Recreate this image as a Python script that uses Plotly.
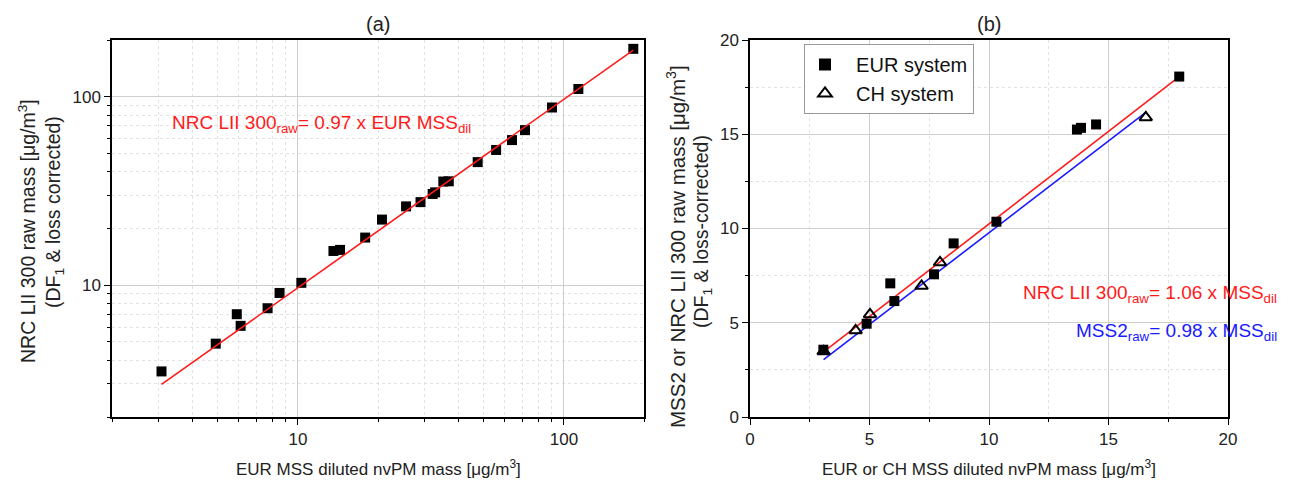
import plotly.graph_objects as go

# ---------------- data ----------------
# Panel (a): EUR MSS diluted vs NRC LII 300 raw (log-log)
a_x = [3.07, 4.91, 5.89, 6.09, 7.69, 8.53, 10.3, 13.6, 14.4, 17.9, 20.7, 25.5,
       28.9, 32.1, 32.8, 35.2, 36.9, 47.4, 55.6, 63.8, 71.4, 90.2, 113.3, 182.3]
a_y = [3.49, 4.90, 7.02, 6.09, 7.55, 9.10, 10.3, 15.2, 15.4, 17.9, 22.3, 26.2,
       27.6, 30.5, 31.1, 35.5, 35.6, 45.0, 52.2, 58.9, 66.5, 87.7, 109.9, 179.5]
a_slope = 0.97

# Panel (b): EUR system (squares) and CH system (triangles)
eur_x = [3.07, 4.88, 5.87, 6.04, 7.70, 8.52, 10.31, 13.68, 13.85, 14.48, 17.96]
eur_y = [3.57, 4.95, 7.09, 6.15, 7.57, 9.21, 10.36, 15.25, 15.34, 15.52, 18.06]
ch_x = [3.08, 4.42, 5.02, 7.18, 7.95, 16.56]
ch_y = [3.48, 4.59, 5.44, 6.95, 8.20, 15.89]
# fitted lines as drawn (end points)
red_fit_x = [3.08, 17.96]
red_fit_y = [3.45, 18.06]
blue_fit_x = [3.08, 16.6]
blue_fit_y = [3.04, 16.2]

W, H = 1300, 488
MT, MB = 12, 12
def px(x):
    return x / W
def py(y):
    return (H - MB - y) / (H - MT - MB)

FONT = "Liberation Sans, Arial, sans-serif"

fig = go.Figure()

# panel (a)
fig.add_trace(go.Scatter(x=a_x, y=a_y, mode="markers", xaxis="x", yaxis="y",
                         marker=dict(symbol="square", size=10, color="black"),
                         showlegend=False))
fx = [min(a_x), max(a_x)]
fig.add_trace(go.Scatter(x=fx, y=[a_slope * v for v in fx], mode="lines",
                         xaxis="x", yaxis="y", line=dict(color="#ff1a1a", width=1.6),
                         showlegend=False))

# panel (b)
fig.add_trace(go.Scatter(x=red_fit_x, y=red_fit_y, mode="lines", xaxis="x2", yaxis="y2",
                         line=dict(color="#ff1a1a", width=1.6), showlegend=False))
fig.add_trace(go.Scatter(x=blue_fit_x, y=blue_fit_y, mode="lines", xaxis="x2", yaxis="y2",
                         line=dict(color="#1a1aff", width=1.6), showlegend=False))
fig.add_trace(go.Scatter(x=eur_x, y=eur_y, mode="markers", xaxis="x2", yaxis="y2",
                         name="\u00a0\u00a0EUR system",
                         marker=dict(symbol="square", size=10, color="black")))
fig.add_trace(go.Scatter(x=ch_x, y=ch_y, mode="markers", xaxis="x2", yaxis="y2",
                         name="\u00a0\u00a0CH system",
                         marker=dict(symbol="triangle-up-open", size=11, color="black",
                                     line=dict(width=2, color="black"))))

dom_a = [px(112), px(644)]
dom_b = [px(750), px(1228)]
dom_y = [py(417), py(40)]

log_minor = [2, 3, 4, 5, 6, 7, 8, 9, 20, 30, 40, 50, 60, 70, 80, 90, 200]
common = dict(showline=True, linecolor="black", linewidth=1.5, mirror=True,
              ticks="outside", ticklen=6, tickwidth=1.2, tickcolor="black",
              showgrid=True, gridcolor="#cfcfcf", gridwidth=1, zeroline=False,
              tickfont=dict(size=17, color="#222", family=FONT))
overlay = dict(showline=False, ticks="inside", ticklen=6, tickwidth=1.2, tickcolor="black",
               showgrid=False, zeroline=False, showticklabels=False)

fig.update_layout(
    width=W, height=H, margin=dict(l=0, r=0, t=MT, b=MB, autoexpand=False),
    plot_bgcolor="white", paper_bgcolor="white",
    font=dict(family=FONT, color="#222"),
    xaxis=dict(type="log", range=[0.30103, 2.30103], domain=dom_a, anchor="y",
               tickvals=[10, 100],
               minor=dict(tickvals=log_minor, ticks="outside", ticklen=3, tickcolor="black",
                          showgrid=True, gridcolor="#e2e2e2", griddash="dot"),
               **common),
    yaxis=dict(type="log", range=[0.30103, 2.30103], domain=dom_y, anchor="x",
               tickvals=[10, 100],
               minor=dict(tickvals=log_minor, ticks="outside", ticklen=3, tickcolor="black",
                          showgrid=True, gridcolor="#e2e2e2", griddash="dot"),
               **common),
    xaxis3=dict(type="log", range=[0.30103, 2.30103], overlaying="x", side="top", anchor="y",
                tickvals=[10, 100],
                minor=dict(tickvals=log_minor, ticks="inside", ticklen=3, tickcolor="black"),
                **overlay),
    yaxis3=dict(type="log", range=[0.30103, 2.30103], overlaying="y", side="right", anchor="x",
                tickvals=[10, 100],
                minor=dict(tickvals=log_minor, ticks="inside", ticklen=3, tickcolor="black"),
                **overlay),
    xaxis2=dict(range=[0, 20], domain=dom_b, anchor="y2", tickvals=[0, 5, 10, 15, 20],
                minor=dict(dtick=2.5, ticks="outside", ticklen=3, tickcolor="black",
                           showgrid=True, gridcolor="#e2e2e2", griddash="dot"),
                **common),
    yaxis2=dict(range=[0, 20], domain=dom_y, anchor="x2", tickvals=[0, 5, 10, 15, 20],
                minor=dict(dtick=2.5, ticks="outside", ticklen=3, tickcolor="black",
                           showgrid=True, gridcolor="#e2e2e2", griddash="dot"),
                **common),
    xaxis4=dict(range=[0, 20], overlaying="x2", side="top", anchor="y2",
                tickvals=[0, 5, 10, 15, 20],
                minor=dict(dtick=2.5, ticks="inside", ticklen=3, tickcolor="black"),
                **overlay),
    yaxis4=dict(range=[0, 20], overlaying="y2", side="right", anchor="x2",
                tickvals=[0, 5, 10, 15, 20],
                minor=dict(dtick=2.5, ticks="inside", ticklen=3, tickcolor="black"),
                **overlay),
    legend=dict(x=px(804), y=py(44), xanchor="left", yanchor="top",
                bgcolor="white", bordercolor="#999", borderwidth=1,
                font=dict(size=20, family=FONT, color="#111"),
                itemsizing="constant", tracegroupgap=0),
)

ann = []
def text(x, y, s, size=18, color="#222", xanchor="center", yanchor="middle", angle=0):
    ann.append(dict(x=px(x), y=py(y), xref="paper", yref="paper", text=s, showarrow=False,
                    xanchor=xanchor, yanchor=yanchor, textangle=angle,
                    font=dict(size=size, color=color, family=FONT)))

text(378, 24, "(a)", size=20)
text(989, 24, "(b)", size=20)
text(378, 468, "EUR MSS diluted nvPM mass [μg/m<sup>3</sup>]", size=17)
text(989, 468, "EUR or CH MSS diluted nvPM mass [μg/m<sup>3</sup>]", size=17)
text(27, 231, "NRC LII 300 raw mass [μg/m<sup>3</sup>]", size=19.5, angle=-90)
text(54, 212, "(DF<sub>1</sub> & loss corrected)", size=19.5, angle=-90)
text(676, 247, "MSS2 or NRC LII 300 raw mass [μg/m<sup>3</sup>]", size=20.5, angle=-90)
text(702, 232, "(DF<sub>1</sub> & loss-corrected)", size=19.5, angle=-90)
text(170, 124, "NRC LII 300<sub>raw</sub>= 0.97 x EUR MSS<sub>dil</sub>", size=19,
     color="#ff1a1a", xanchor="left")
text(1279, 294, "NRC LII 300<sub>raw</sub>= 1.06 x MSS<sub>dil</sub>", size=19,
     color="#ff1a1a", xanchor="right")
text(1279, 332, "MSS2<sub>raw</sub>= 0.98 x MSS<sub>dil</sub>", size=19,
     color="#1a1aff", xanchor="right")
fig.update_layout(annotations=ann)

fig.write_html("out.html")
